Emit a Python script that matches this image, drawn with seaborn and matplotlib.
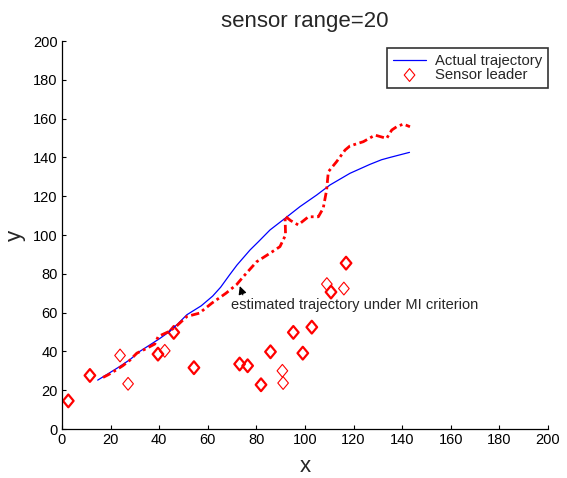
import numpy as np
import matplotlib
matplotlib.use('Agg')
import matplotlib.pyplot as plt
from matplotlib.path import Path
import seaborn as sns
import pandas as pd

# Actual trajectory (blue)
actual_x = [14.7, 19.0, 23.5, 28.0, 32.0, 36.0, 40.3, 44.0, 47.5, 51.4, 57.3, 62.0,
            65.3, 69.0, 72.0, 77.4, 80.8, 85.6, 91.8, 97.9, 104.8, 110.3, 118.5,
            126.7, 131.5, 135.0, 139.0, 143.0]
actual_y = [25.2, 28.5, 32.0, 35.8, 40.0, 43.2, 46.7, 50.0, 54.0, 58.9, 63.5, 68.5,
            73.1, 79.5, 84.5, 92.3, 96.5, 102.6, 108.6, 114.6, 120.6, 125.8, 131.8,
            136.4, 138.8, 140.0, 141.3, 142.6]

# Estimated trajectory under MI criterion (red dash-dot)
est_x = [16.9, 19.1, 22.0, 25.0, 27.9, 30.8, 33.8, 38.2, 39.6, 44.1, 47.0, 51.4,
         56.5, 61.7, 67.5, 71.9, 74.6, 80.1, 85.6, 89.7, 92.0, 91.8, 94.0, 97.2,
         101.4, 105.5, 107.5, 108.9, 109.6, 113.0, 116.5, 118.5, 124.0, 128.8,
         133.6, 135.7, 137.7, 140.5, 143.2]
est_y = [26.6, 28.0, 30.2, 32.6, 35.4, 39.1, 40.9, 43.8, 47.7, 50.3, 52.9, 58.0,
         59.7, 64.9, 70.0, 74.5, 78.5, 86.2, 90.6, 94.0, 100.0, 109.8, 107.5, 105.2,
         109.4, 109.4, 113.8, 123.2, 132.6, 137.8, 143.8, 145.9, 148.1, 151.5,
         149.8, 154.1, 155.8, 157.2, 155.8]

# Sensor leaders, and how many times each was picked (repeat picks draw bold)
leader_x = [2.6, 11.5, 23.9, 27.2, 39.5, 42.3, 46.0, 54.3, 73.1, 76.4, 81.9, 85.8,
            90.7, 91.0, 95.2, 99.1, 102.8, 109.0, 110.7, 116.0, 116.9]
leader_y = [14.5, 27.6, 37.9, 23.3, 38.6, 40.3, 49.8, 31.6, 33.5, 32.6, 22.8, 39.8,
            30.0, 23.7, 49.8, 39.1, 52.5, 74.7, 70.6, 72.4, 85.5]
leader_hits = [3, 3, 1, 1, 3, 1, 3, 3, 3, 3, 3, 3, 1, 1, 3, 3, 3, 1, 3, 1, 3]

sns.set_theme(style='white')
plt.rcParams['font.family'] = ['Liberation Sans', 'DejaVu Sans']

actual = pd.DataFrame({'x': actual_x, 'y': actual_y})
est = pd.DataFrame({'x': est_x, 'y': est_y})
leaders = pd.DataFrame({'x': leader_x, 'y': leader_y, 'hits': leader_hits})

# matlab-like diamond, a bit taller than wide
diamond = Path([(0, 1), (0.83, 0), (0, -1), (-0.83, 0), (0, 1)],
               [Path.MOVETO, Path.LINETO, Path.LINETO, Path.LINETO, Path.CLOSEPOLY])

fig = plt.figure(figsize=(5.67, 4.78), dpi=100)
ax = fig.add_axes([0.1093, 0.1025, 0.8572, 0.8117])

sns.lineplot(data=actual, x='x', y='y', sort=False, color='blue', linewidth=0.9,
             ax=ax, label='Actual trajectory')
sns.lineplot(data=est, x='x', y='y', sort=False, color='red', linewidth=2.0,
             linestyle=(0, (3, 1.3, 1, 1.3)), ax=ax, legend=False)

single = leaders[leaders['hits'] == 1]
multi = leaders[leaders['hits'] > 1]
sns.scatterplot(data=single, x='x', y='y', marker=diamond, s=85, facecolor='none',
                edgecolor='red', linewidth=0.8, ax=ax, label='Sensor leader')
sns.scatterplot(data=multi, x='x', y='y', marker=diamond, s=85, facecolor='none',
                edgecolor='red', linewidth=1.6, ax=ax, legend=False)

ax.annotate('', xy=(72.8, 75.0), xytext=(74.8, 67.8),
            arrowprops=dict(arrowstyle='-|>', color='black', lw=0.8,
                            mutation_scale=12))
ax.text(69.5, 64, 'estimated trajectory under MI criterion', fontsize=10.5,
        va='center', ha='left')

ax.set_xlim(0, 200)
ax.set_ylim(0, 200)
ax.set_xticks(np.arange(0, 201, 20))
ax.set_yticks(np.arange(0, 201, 20))
ax.tick_params(direction='in', length=3, width=0.8, labelsize=10.5, pad=3,
               color='black', labelcolor='black', bottom=True, left=True)
for side in ['top', 'right']:
    ax.spines[side].set_visible(False)
for side in ['left', 'bottom']:
    ax.spines[side].set_color('black')
    ax.spines[side].set_linewidth(0.9)

ax.set_xlabel('x', fontsize=16, labelpad=6)
ax.set_ylabel('y', fontsize=16, labelpad=5)
ax.set_title('sensor range=20', fontsize=16, pad=10)

leg = ax.legend(loc='upper right', bbox_to_anchor=(1.0, 0.982), borderaxespad=0,
                fontsize=10.7, frameon=True, fancybox=False, edgecolor='black',
                borderpad=0.4, handlelength=2.2, handletextpad=0.6,
                labelspacing=0.0)
leg.get_frame().set_linewidth(1.2)

plt.savefig('out.png', dpi=100)
